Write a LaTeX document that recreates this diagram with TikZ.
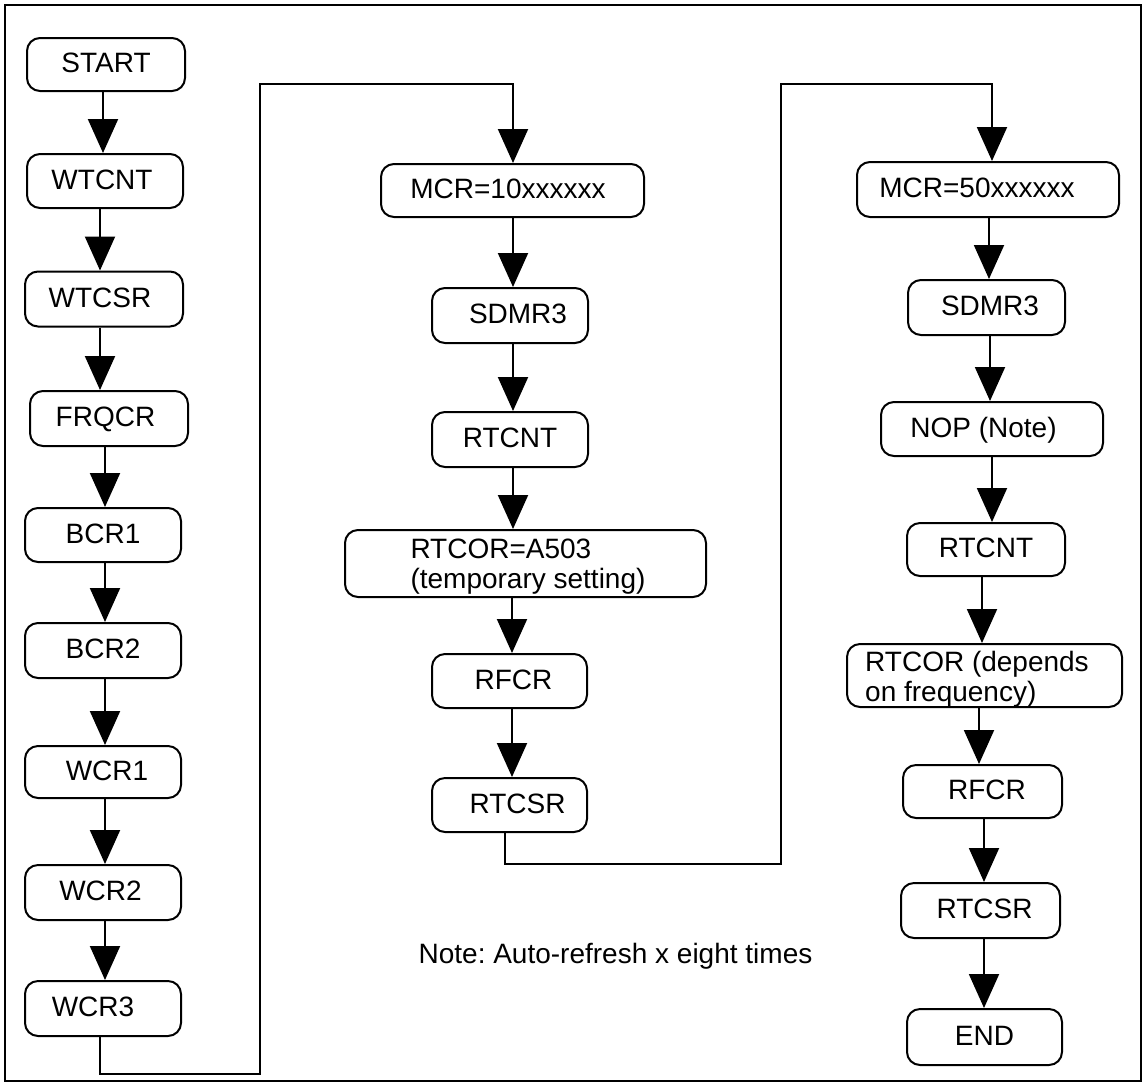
\documentclass[tikz,border=0pt]{standalone}
\usepackage{fontspec}
\setmainfont{Liberation Sans}
\usetikzlibrary{arrows.meta}
\frenchspacing
\newcommand\tsh[2]{\hspace*{#1}#2\hspace*{-#1}}
\newcommand\varrow[3]{\draw[arr] ([xshift=#3]#1.south) -- ([xshift=#3]#1.south |- #2.north);}
\begin{document}
\begin{tikzpicture}[x=1pt,y=-1pt,
  box/.style={draw, line width=2pt, rounded corners=13pt, inner sep=0pt, font=\fontsize{28}{30}\selectfont},
  sbox/.style={box, text height=20pt, text depth=4pt},
  arr/.style={line width=2pt, -{Triangle[width=30pt,length=34pt]}},
  frame/.style={line width=2.4pt},
  notetext/.style={font=\fontsize{28}{30}\selectfont, anchor=base, inner sep=0pt}]
\useasboundingbox (0,0) rectangle (1145,1088);
\draw[frame] (5,5) rectangle (1141,1081);

% left column
\node[sbox, minimum width=158pt, minimum height=53pt] (start) at (106,64.5) {START};
\node[sbox, minimum width=156pt, minimum height=54pt] (wtcnt) at (105,181) {\tsh{-3pt}{WTCNT}};
\node[sbox, minimum width=158pt, minimum height=55pt] (wtcsr) at (104,299) {\tsh{-4pt}{WTCSR}};
\node[sbox, minimum width=158pt, minimum height=55pt] (frqcr) at (109,418.5) {\tsh{-3.5pt}{FRQCR}};
\node[sbox, minimum width=156pt, minimum height=54pt] (bcr1) at (103,535) {BCR1};
\node[sbox, minimum width=156pt, minimum height=55pt] (bcr2) at (103,650.5) {BCR2};
\node[sbox, minimum width=156pt, minimum height=52pt] (wcr1) at (103,772) {\tsh{4pt}{WCR1}};
\node[sbox, minimum width=156pt, minimum height=55pt] (wcr2) at (103,892.5) {\tsh{-2.5pt}{WCR2}};
\node[sbox, minimum width=156pt, minimum height=55pt] (wcr3) at (103,1008.5) {\tsh{-10pt}{WCR3}};

% middle column
\node[sbox, minimum width=263pt, minimum height=53pt] (mcr10) at (512.5,190.5) {\tsh{-4.5pt}{MCR=10xxxxxx}};
\node[sbox, minimum width=156pt, minimum height=55pt] (sdmr3a) at (510,315.5) {\tsh{8pt}{SDMR3}};
\node[sbox, minimum width=156pt, minimum height=55pt] (rtcnta) at (510,439.5) {RTCNT};
\node[box, minimum width=361pt, minimum height=67pt] (rtcora) at (525.5,563.5) {\tsh{2.5pt}{\raisebox{-4pt}[\height][\depth]{\begin{tabular}{@{}l@{}}RTCOR=A503\\(temporary setting)\end{tabular}}}};
\node[sbox, minimum width=155pt, minimum height=54pt] (rfcra) at (509.5,681) {\tsh{4pt}{RFCR}};
\node[sbox, minimum width=155pt, minimum height=54pt] (rtcsra) at (509.5,805) {\tsh{8pt}{RTCSR}};

% right column
\node[sbox, minimum width=262pt, minimum height=55pt] (mcr50) at (988,189.5) {\tsh{-11pt}{MCR=50xxxxxx}};
\node[sbox, minimum width=157pt, minimum height=55pt] (sdmr3b) at (986.5,307.5) {\tsh{3.5pt}{SDMR3}};
\node[sbox, minimum width=222pt, minimum height=54pt] (nop) at (992,429) {\tsh{-8.5pt}{NOP (Note)}};
\node[sbox, minimum width=158pt, minimum height=53pt] (rtcntb) at (986,549.5) {RTCNT};
\node[box, minimum width=275pt, minimum height=63pt] (rtcorb) at (984.5,675.5) {\tsh{-7.5pt}{\raisebox{-5pt}[\height][\depth]{\begin{tabular}{@{}l@{}}RTCOR (depends\\on frequency)\end{tabular}}}};
\node[sbox, minimum width=159pt, minimum height=53pt] (rfcrb) at (982.5,791.5) {\tsh{4.5pt}{RFCR}};
\node[sbox, minimum width=159pt, minimum height=55pt] (rtcsrb) at (980.5,910.5) {\tsh{4pt}{RTCSR}};
\node[sbox, minimum width=155pt, minimum height=56pt] (endn) at (984.5,1037) {END};

\node[notetext] (note) at (615.5,963) {Note: Auto-refresh x eight times};

% left arrows
\varrow{start}{wtcnt}{-3pt}
\varrow{wtcnt}{wtcsr}{-5pt}
\varrow{wtcsr}{frqcr}{-4pt}
\varrow{frqcr}{bcr1}{-4pt}
\varrow{bcr1}{bcr2}{2pt}
\varrow{bcr2}{wcr1}{2pt}
\varrow{wcr1}{wcr2}{2pt}
\varrow{wcr2}{wcr3}{2pt}

% middle arrows
\varrow{mcr10}{sdmr3a}{0.5pt}
\varrow{sdmr3a}{rtcnta}{3pt}
\varrow{rtcnta}{rtcora}{3pt}
\varrow{rtcora}{rfcra}{-13.5pt}
\varrow{rfcra}{rtcsra}{2.5pt}

% right arrows
\varrow{mcr50}{sdmr3b}{1pt}
\varrow{sdmr3b}{nop}{3.5pt}
\varrow{nop}{rtcntb}{0pt}
\varrow{rtcntb}{rtcorb}{-4pt}
\varrow{rtcorb}{rfcrb}{-5.5pt}
\varrow{rfcrb}{rtcsrb}{1.5pt}
\varrow{rtcsrb}{endn}{3.5pt}

% column links
\coordinate (j1) at (260,1074);
\coordinate (j2) at (260,84);
\coordinate (j3) at (781,864);
\coordinate (j4) at (781,84);
\draw[arr] ([xshift=-3pt]wcr3.south) |- (j1) -- (j2) -| ([xshift=0.5pt]mcr10.north);
\draw[arr] ([xshift=-4.5pt]rtcsra.south) |- (j3) -- (j4) -| ([xshift=4pt]mcr50.north);
\end{tikzpicture}
\end{document}
